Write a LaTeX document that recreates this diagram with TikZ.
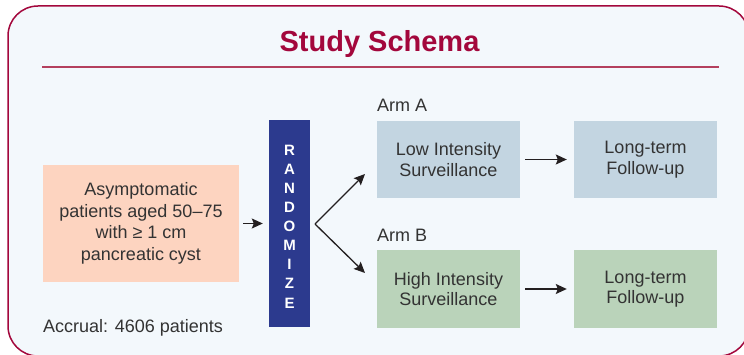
\documentclass[tikz,border=0pt]{standalone}
\usepackage{fontspec}
\setmainfont{Liberation Sans}
\usetikzlibrary{arrows.meta,calc}
\definecolor{framec}{HTML}{A3073C}
\definecolor{rulec}{HTML}{B4405E}
\definecolor{bgc}{HTML}{F3F8FC}
\definecolor{peach}{HTML}{FDD4C0}
\definecolor{navy}{HTML}{2C3A8E}
\definecolor{bluebox}{HTML}{C3D5E1}
\definecolor{greenbox}{HTML}{BAD3BA}
\definecolor{txt}{HTML}{333333}
\definecolor{arr}{HTML}{231F20}
\tikzset{
  box/.style={inner sep=0pt, align=center, text=txt, font=\fontsize{18}{20.5}\selectfont},
  lbl/.style={inner sep=0pt, text=txt, font=\fontsize{18}{20}\selectfont},
  conn/.style={draw=arr, line width=1.3pt, -{Stealth[length=11pt,width=10pt,inset=2pt]}}
}
\begin{document}
\begin{tikzpicture}[x=1pt,y=-1pt]
\useasboundingbox (0,0) rectangle (744,355);
\begin{scope}
\clip (0,0) rectangle (744,355);
\fill[white] (0,0) rectangle (744,355);
\draw[framec, line width=1.5pt, fill=bgc, rounded corners=30pt] (8,6) rectangle (749,356);
\end{scope}
\node[anchor=base, inner sep=0pt, text=framec, font=\fontsize{29}{30}\selectfont\bfseries] (title) at (379.5,52) {Study Schema};
\draw[rulec, line width=2pt] (42,67.5) -- (719,67.5);

\node[box, fill=peach, minimum width=196pt, minimum height=117pt, font=\fontsize{18}{21.5}\selectfont] (pat) at (141,223.5)
  {Asymptomatic\\patients aged 50–75\\with ≥ 1 cm\\pancreatic cyst};
\node[lbl, anchor=base west] (accr) at (43,332) {Accrual: 4606 patients};

\node[fill=navy, minimum width=41pt, minimum height=207pt, inner sep=0pt] (rand) at (289.5,223.5) {};
\node[inner sep=0pt, align=center, text=white, font=\fontsize{15}{19.1}\selectfont\bfseries] (randtext) at (289.5,226.5)
  {R\\A\\N\\D\\O\\M\\I\\Z\\E};

\node[lbl, anchor=base west] (armA) at (377,112) {Arm A};
\node[lbl, anchor=base west] (armB) at (377,242) {Arm B};

\node[box, fill=bluebox, minimum width=143pt, minimum height=77pt] (low) at (448.5,159.5) {Low Intensity\\Surveillance};
\node[box, fill=bluebox, minimum width=143pt, minimum height=77pt] (fuA) at (645.5,159.5) {Long-term\\Follow-up};
\node[box, fill=greenbox, minimum width=143pt, minimum height=77pt] (high) at (448.5,289) {High Intensity\\Surveillance};
\node[box, fill=greenbox, minimum width=143pt, minimum height=77pt] (fuB) at (645.5,289) {Long-term\\Follow-up};

\coordinate (split) at (315,224);
\coordinate (tipA) at (365,174);
\coordinate (tipB) at (365,273);

\draw[conn, shorten <=4pt, shorten >=6pt] (pat.east |- rand.west) -- (rand.west);
\draw[conn] (split) -- (tipA);
\draw[conn] (split) -- (tipB);
\draw[conn, shorten <=5pt, shorten >=7pt] (low.east) -- (fuA.west);
\draw[conn, shorten <=5pt, shorten >=7pt] (high.east) -- (fuB.west);
\end{tikzpicture}
\end{document}
